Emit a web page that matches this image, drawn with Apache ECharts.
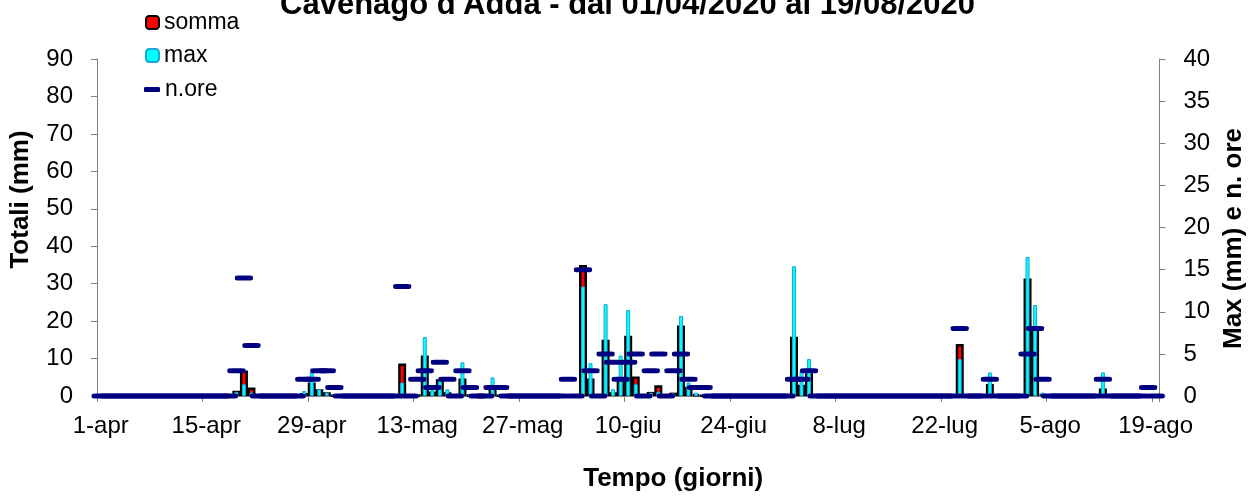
<!DOCTYPE html>
<html>
<head>
<meta charset="utf-8">
<script src="https://cdn.jsdelivr.net/npm/echarts@6/dist/echarts.min.js"></script>
<style>
html,body{margin:0;padding:0;background:#fff;}
#chart{width:1255px;height:497px;}
</style>
</head>
<body>
<div id="chart"></div>
<script>
// ---- data ----
const titleText = "Cavenago d'Adda - dal 01/04/2020 al 19/08/2020";
const monthNames = ['apr', 'mag', 'giu', 'lug', 'ago'];
const monthDays = [30, 31, 30, 31, 19];
const tickLabels = ['1-apr','15-apr','29-apr','13-mag','27-mag','10-giu','24-giu','8-lug','22-lug','5-ago','19-ago'];

// daily totals (mm), 1-apr .. 19-ago
const somma = [
  0,0,0,0,0,0,0,0,0,0,
  0,0,0,0,0,0,0,0,1.4,6.8,
  2.3,0,0,0,0,0,0,0.8,3.6,1.8,
  1.0,0.2,0,0,0,0,0,0,0,0,
  8.7,0,0.3,10.8,1.2,4.5,1.0,0,4.7,0.3,
  0,0,2.2,0.2,0,0,0,0,0,0,
  0,0,0.3,0,35.0,4.7,0,15.0,1.0,5.0,
  16.1,5.2,0,1.1,2.9,0,0.9,18.8,2.5,0.4,
  0.1,0,0,0,0,0,0,0,0,0,
  0,0,15.8,3.0,6.1,0,0,0,0,0,
  0,0,0,0,0,0,0,0,0,0,
  0,0,0,0,13.9,0,0,0,3.2,0,
  0,0,0,31.4,18.1,0.5,0,0,0,0,
  0,0,0,2.0,0,0,0,0,0,0.2,
  0
];
// daily max (mm)
const maxv = [
  0,0,0,0,0,0,0,0,0,0,
  0,0,0,0,0,0,0,0,0.5,1.4,
  0.4,0,0,0,0,0,0,0.6,2.8,0.8,
  0.4,0.2,0,0,0,0,0,0,0,0,
  1.6,0,0.2,7.0,0.7,1.8,0.8,0,4.0,0.2,
  0,0,2.2,0.2,0,0,0,0,0,0,
  0,0,0.2,0,13.0,3.9,0,10.9,0.8,4.8,
  10.2,1.4,0,0.4,0.5,0,0.3,9.5,1.6,0.4,
  0.1,0,0,0,0,0,0,0,0,0,
  0,0,15.4,3.0,4.4,0,0,0,0,0,
  0,0,0,0,0,0,0,0,0,0,
  0,0,0,0,4.4,0,0,0,2.8,0,
  0,0,0,16.5,10.8,0.4,0,0,0,0,
  0,0,0,2.8,0,0,0,0,0,0.2,
  0
];
// number of rainy hours
const nore = [
  0,0,0,0,0,0,0,0,0,0,
  0,0,0,0,0,0,0,0,3,14,
  6,0,0,0,0,0,0,2,2,3,
  3,1,0,0,0,0,0,0,0,0,
  13,0,2,3,1,4,2,0,3,1,
  0,0,1,1,0,0,0,0,0,0,
  0,0,2,0,15,3,0,5,4,2,
  4,5,0,3,5,0,3,5,2,1,
  1,0,0,0,0,0,0,0,0,0,
  0,0,2,2,3,0,0,0,0,0,
  0,0,0,0,0,0,0,0,0,0,
  0,0,0,0,8,0,0,0,2,0,
  0,0,0,5,8,2,0,0,0,0,
  0,0,0,2,0,0,0,0,0,1,
  0
];

// categories (one per day)
const categories = [];
monthNames.forEach((m, i) => {
  for (let d = 1; d <= monthDays[i]; d++) categories.push(d + '-' + m);
});

const FONT = 'Liberation Sans, Arial, sans-serif';
const gray = '#808080';
const blank = v => (v === 0 ? '-' : v);

const chart = echarts.init(document.getElementById('chart'), null, {renderer: 'canvas'});
chart.setOption({
  animation: false,
  backgroundColor: '#ffffff',
  textStyle: {fontFamily: FONT, color: '#000'},
  title: {
    text: titleText,
    left: 'center',
    top: -10,
    padding: 0,
    textStyle: {fontFamily: FONT, fontSize: 31, fontWeight: 'bold', color: '#000'}
  },
  legend: [
    {data: ['somma'], left: 145, top: 11, padding: 0, itemWidth: 13, itemHeight: 13, itemGap: 6,
     textStyle: {fontFamily: FONT, fontSize: 23, color: '#000'}},
    {data: ['max'], left: 145, top: 44, padding: 0, itemWidth: 13, itemHeight: 13,
     textStyle: {fontFamily: FONT, fontSize: 23, color: '#000'}},
    {data: ['n.ore'], left: 144, top: 78, padding: 0, itemWidth: 16, itemHeight: 5,
     textStyle: {fontFamily: FONT, fontSize: 23, color: '#000'}}
  ],
  grid: {left: 97, right: 80, top: 59, bottom: 101, containLabel: false},
  xAxis: [
    {
      type: 'category',
      data: categories,
      boundaryGap: true,
      name: 'Tempo (giorni)',
      nameLocation: 'middle',
      nameGap: 70,
      nameTextStyle: {fontFamily: FONT, fontSize: 26, fontWeight: 'bold', color: '#000', padding: [0, 0, 0, 90]},
      axisLine: {lineStyle: {color: gray, width: 1}},
      axisTick: {show: true, interval: 13, alignWithLabel: false, length: 6, lineStyle: {color: gray}},
      axisLabel: {
        interval: 13, margin: 18, fontFamily: FONT, fontSize: 24, color: '#000',
        formatter: (v, i) => tickLabels[Math.round(i / 14)]
      },
      splitLine: {show: false}
    },
    {
      type: 'category',
      data: categories,
      boundaryGap: true,
      show: false
    }
  ],
  yAxis: [
    {
      type: 'value', min: 0, max: 90, interval: 10,
      name: 'Totali (mm)',
      nameLocation: 'middle',
      nameGap: 63,
      nameTextStyle: {fontFamily: FONT, fontSize: 26, fontWeight: 'bold', color: '#000', padding: [0, 0, 0, 56]},
      axisLine: {show: true, lineStyle: {color: gray, width: 1}},
      axisTick: {show: true, length: 6, lineStyle: {color: gray}},
      axisLabel: {margin: 24, fontFamily: FONT, fontSize: 24, color: '#000'},
      splitLine: {show: false}
    },
    {
      type: 'value', min: 0, max: 40, interval: 5,
      position: 'right',
      name: 'Max (mm) e n. ore',
      nameLocation: 'middle',
      nameGap: 58,
      nameTextStyle: {fontFamily: FONT, fontSize: 26, fontWeight: 'bold', color: '#000', padding: [0, 22, 0, 0]},
      axisLine: {show: true, lineStyle: {color: gray, width: 1}},
      axisTick: {show: true, length: 6, lineStyle: {color: gray}},
      axisLabel: {margin: 24, fontFamily: FONT, fontSize: 24, color: '#000'},
      splitLine: {show: false}
    }
  ],
  series: [
    {
      name: 'somma', type: 'bar', xAxisIndex: 0, yAxisIndex: 0,
      data: somma.map(blank),
      barWidth: 8,
      z: 2,
      itemStyle: {color: '#FF0000', borderColor: '#000000', borderWidth: 2.5}
    },
    {
      name: 'max', type: 'bar', xAxisIndex: 1, yAxisIndex: 1,
      data: maxv.map(blank),
      barWidth: 4,
      z: 3,
      itemStyle: {color: '#00FFFF', borderColor: '#1AA6D9', borderWidth: 1}
    },
    {
      name: 'n.ore', type: 'scatter', xAxisIndex: 0, yAxisIndex: 1,
      data: nore,
      symbol: 'roundRect',
      symbolSize: [18, 5],
      z: 4,
      itemStyle: {color: '#000080', opacity: 1}
    }
  ]
});
</script>
</body>
</html>
